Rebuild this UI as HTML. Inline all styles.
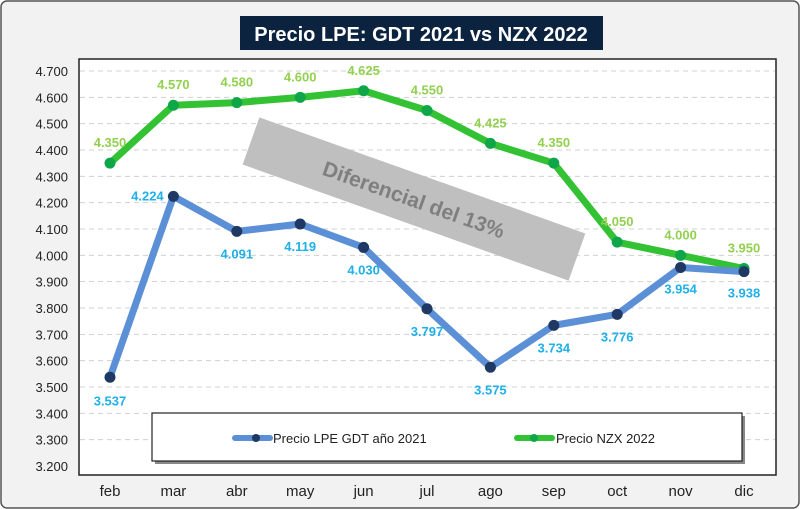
<!DOCTYPE html>
<html><head><meta charset="utf-8"><style>
body{margin:0;background:#fff}
svg{display:block;font-family:"Liberation Sans",sans-serif}
</style></head><body>
<svg width="800" height="509" viewBox="0 0 800 509">
<rect x="1" y="1" width="798" height="507" rx="6" fill="#f2f2f2" stroke="#555" stroke-width="1.5"/>
<rect x="79" y="59" width="697" height="416" fill="#fff" stroke="#222" stroke-width="1.5"/>
<g id="grid"></g>
<g id="yticks"></g>
<g id="xticks"></g>
<g transform="translate(414,199) rotate(19.6)">
<rect x="-173" y="-25" width="346" height="50" fill="#bfbfbf"/>
<text x="0" y="8" text-anchor="middle" font-size="21" font-weight="bold" fill="#7f7f7f">Diferencial del 13%</text>
</g>
<g id="series"></g>
<rect x="240" y="16" width="363" height="34" fill="#0c2340"/>
<text x="421" y="41" text-anchor="middle" font-size="20" font-weight="bold" fill="#fff">Precio LPE: GDT 2021 vs NZX 2022</text>
<rect x="155" y="416" width="590" height="48" fill="#888"/>
<rect x="152" y="413" width="590" height="48" fill="#fff" stroke="#222" stroke-width="1.2"/>
<g>
<line x1="235" y1="438" x2="270" y2="438" stroke="#5b8fd6" stroke-width="6" stroke-linecap="round"/>
<circle cx="256" cy="438" r="4" fill="#1f3864"/>
<text x="273" y="443" font-size="13" fill="#222">Precio LPE GDT año 2021</text>
</g>
<g>
<line x1="517" y1="438" x2="552" y2="438" stroke="#33c233" stroke-width="6" stroke-linecap="round"/>
<circle cx="534" cy="438" r="4" fill="#0fa64a"/>
<text x="556" y="443" font-size="13" fill="#222">Precio NZX 2022</text>
</g>
</svg>
<script>
const categories=["feb","mar","abr","may","jun","jul","ago","sep","oct","nov","dic"];
const gdt2021=[3537,4224,4091,4119,4030,3797,3575,3734,3776,3954,3938];
const nzx2022=[4350,4570,4580,4600,4625,4550,4425,4350,4050,4000,3950];
const yTicks=[3200,3300,3400,3500,3600,3700,3800,3900,4000,4100,4200,4300,4400,4500,4600,4700];
const NS="http://www.w3.org/2000/svg";
const yMin=3200,yMax=4700,yTop=71,yBot=466;
const y=v=>yBot-(v-yMin)/(yMax-yMin)*(yBot-yTop);
const x=i=>110+i*63.4;
const fmt=v=>(v/1000).toFixed(3);
function mk(tag,attrs,parent){const e=document.createElementNS(NS,tag);for(const k in attrs)e.setAttribute(k,attrs[k]);parent.appendChild(e);return e;}
const grid=document.getElementById('grid'),yt=document.getElementById('yticks'),xt=document.getElementById('xticks'),ser=document.getElementById('series');
yTicks.forEach(t=>{
  if(t>yMin){const l=mk('line',{x1:80,x2:775,y1:y(t),y2:y(t),stroke:'#d0d0d0','stroke-dasharray':'5,4'},grid);
  
  }
  const tx=mk('text',{x:68,y:y(t)+5,'text-anchor':'end','font-size':'13',fill:'#222'},yt);
  tx.textContent=fmt(t);
  
  
});
categories.forEach((c,i)=>{
  const tx=mk('text',{x:x(i),y:496,'text-anchor':'middle','font-size':'15',fill:'#222'},xt);
  tx.textContent=c;
  
  
});
function drawSeries(vals,lineCol,ptCol,lblCol,name,lblOff){
  const g=mk('g',{},ser);
  
  
  const p=mk('polyline',{points:vals.map((v,i)=>x(i)+','+y(v)).join(' '),fill:'none',stroke:lineCol,'stroke-width':7,'stroke-linejoin':'round'},g);
  
  
  vals.forEach((v,i)=>{
    const c=mk('circle',{cx:x(i),cy:y(v),r:5.5,fill:ptCol},g);
    
    
    const o=lblOff(i);
    const t=mk('text',{x:x(i)+o[0],y:y(v)+o[1],'text-anchor':'middle','font-size':'13','font-weight':'bold',fill:lblCol},g);
    t.textContent=fmt(v);
    
    
  });
}
drawSeries(nzx2022,'#33c233','#0fa64a','#92d050','nzx-2022',i=>[0,-16]);
drawSeries(gdt2021,'#5b8fd6','#1f3864','#1fb0e8','gdt-2021',i=>{
  if(i===0)return[0,28];
  if(i===1)return[-26,4];
  if(i===9)return[0,-14+40];
  if(i===10)return[0,26];
  return[0,27];
});
</script>
</body></html>
